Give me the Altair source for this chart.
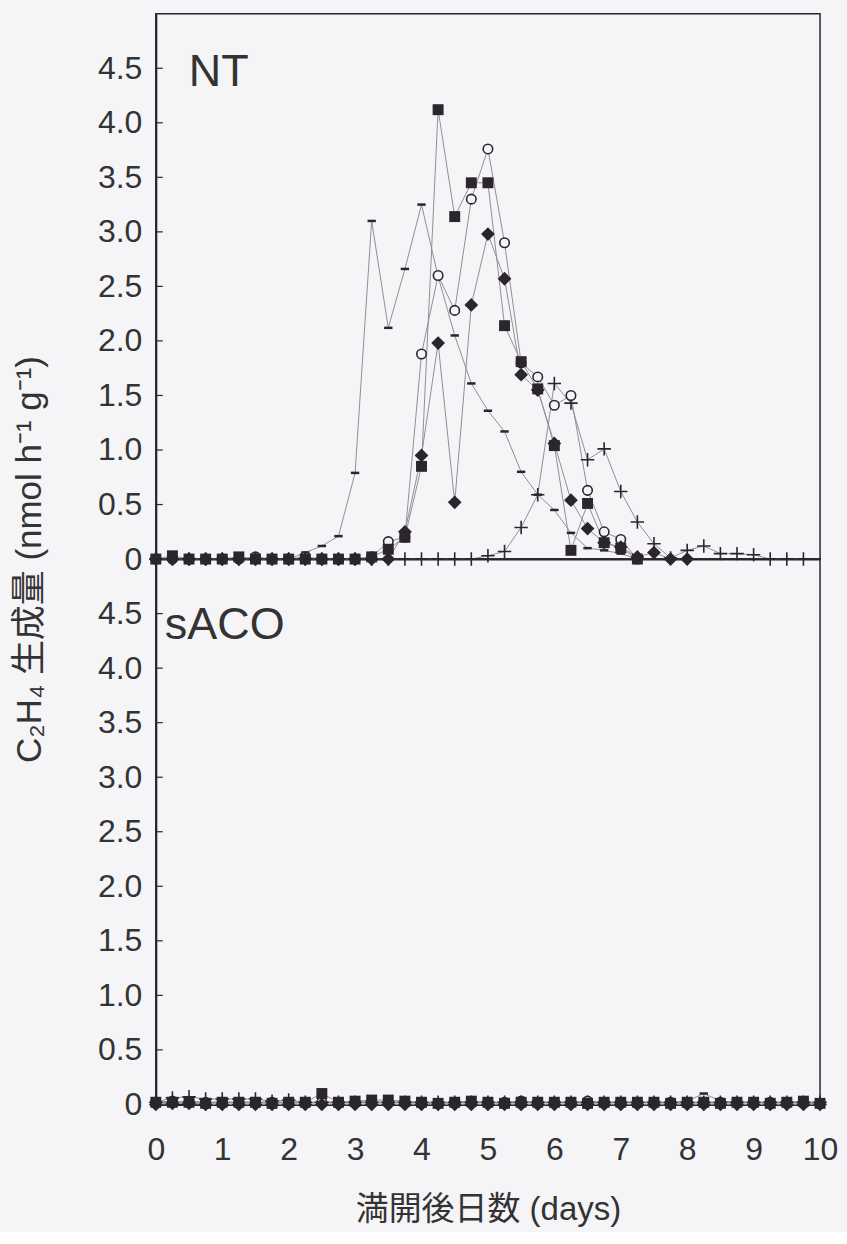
import altair as alt
import pandas as pd

days = [0, 0.25, 0.5, 0.75, 1, 1.25, 1.5, 1.75, 2, 2.25, 2.5, 2.75, 3, 3.25, 3.5, 3.75,
        4, 4.25, 4.5, 4.75, 5, 5.25, 5.5, 5.75, 6, 6.25, 6.5, 6.75, 7, 7.25, 7.5, 7.75,
        8, 8.25, 8.5, 8.75, 9, 9.25, 9.5, 9.75, 10]

N = None
# NT panel
nt_square = [0, 0.03, 0, 0, 0, 0.02, 0, 0, 0, 0, 0, 0, 0, 0.02, 0.09, 0.2,
             0.85, 4.12, 3.14, 3.45, 3.45, 2.14, 1.81, 1.56, 1.04, 0.08, 0.51, 0.15, 0.1, 0, N, N,
             N, N, N, N, N, N, N, N, N]
nt_circle = [0, 0, 0, 0, 0, 0, 0.02, 0, 0, 0.02, 0, 0, 0, 0.02, 0.16, 0.2,
             1.88, 2.6, 2.28, 3.3, 3.76, 2.9, 1.8, 1.67, 1.41, 1.5, 0.63, 0.25, 0.18, 0, N, N,
             N, N, N, N, N, N, N, N, N]
nt_diamond = [0, 0, 0, 0, 0, 0, 0, 0, 0, 0, 0, 0, 0, 0, 0, 0.25,
              0.95, 1.98, 0.52, 2.33, 2.98, 2.57, 1.69, 1.55, 1.06, 0.54, 0.28, 0.15, 0.11, 0.02, 0.06, 0,
              0, N, N, N, N, N, N, N, N]
nt_dash = [0, 0, 0, 0, 0, 0, 0, 0, 0, 0.06, 0.12, 0.21, 0.79, 3.1, 2.12, 2.66,
           3.25, 2.59, 2.05, 1.61, 1.36, 1.17, 0.8, 0.59, 0.45, 0.24, 0.1, 0.08, 0.05, 0, N, N,
           N, N, N, N, N, N, N, N, N]
nt_plus = [0, 0, 0, 0, 0, 0, 0, 0, 0, 0, 0, 0, 0, 0, 0, 0,
           0, 0, 0, 0, 0.03, 0.07, 0.29, 0.59, 1.61, 1.43, 0.91, 1.01, 0.62, 0.34, 0.14, 0.01,
           0.08, 0.12, 0.05, 0.05, 0.04, 0, 0, 0, N]

# sACO panel
sa_square = [0.02, 0.02, 0.02, 0.01, 0.02, 0.02, 0.02, 0.01, 0.02, 0.02, 0.1, 0.02, 0.03, 0.04, 0.04, 0.03,
             0.02, 0.01, 0.02, 0.03, 0.02, 0.01, 0.02, 0.02, 0.02, 0.02, 0.01, 0.02, 0.02, 0.02, 0.02, 0.01,
             0.02, 0.02, 0.01, 0.02, 0.02, 0.01, 0.02, 0.03, 0.01]
sa_circle = [0.02, 0.03, 0.02, 0.02, 0.02, 0.02, 0.02, 0.02, 0.02, 0.02, 0.02, 0.02, 0.02, 0.02, 0.02, 0.02,
             0.01, 0.01, 0.02, 0.02, 0.02, 0.02, 0.03, 0.02, 0.02, 0.02, 0.03, 0.02, 0.02, 0.02, 0.02, 0.02,
             0.01, 0.02, 0.02, 0.02, 0.02, 0.02, 0.02, 0.01, 0.01]
sa_diamond = [0, 0.01, 0.01, 0, 0, 0, 0, 0, 0, 0, 0, 0, 0, 0, 0, 0,
              0, 0, 0, 0, 0, 0, 0, 0, 0, 0, 0, 0, 0, 0, 0, 0,
              0, 0, 0, 0, 0, 0, 0, 0, 0]
sa_dash = [0.02, 0.02, 0.03, 0.02, 0.02, 0.02, 0.02, 0.02, 0.02, 0.02, 0.02, 0.02, 0.02, 0.02, 0.02, 0.02,
           0.02, 0.02, 0.02, 0.02, 0.02, 0.02, 0.02, 0.02, 0.02, 0.02, 0.02, 0.02, 0.02, 0.02, 0.02, 0.02,
           0.03, 0.1, 0.03, 0.02, 0.02, 0.02, 0.02, 0.02, 0.02]
sa_plus = [0.02, 0.06, 0.07, 0.05, 0.05, 0.05, 0.05, 0.03, 0.04, 0.02, 0.02, 0.02, 0.02, 0.02, 0.02, 0.02,
           0.02, 0.02, 0.02, 0.02, 0.02, 0.02, 0.02, 0.02, 0.02, 0.02, 0.02, 0.02, 0.02, 0.02, 0.02, 0.02,
           0.02, 0.02, 0.02, 0.02, 0.02, 0.02, 0.02, 0.02, 0.02]

y_ticks = [0, 0.5, 1.0, 1.5, 2.0, 2.5, 3.0, 3.5, 4.0, 4.5]
x_ticks = [0, 1, 2, 3, 4, 5, 6, 7, 8, 9, 10]

INK = "#2b262c"
LINE = "#948d94"
BG = "#f5f5f7"
FONT = "Liberation Sans, Arial, Noto Sans CJK JP"

PLUS = "M-1,0H1M0,-1V1"
DASH = "M-1,-0.3H1V0.3H-1Z"


def long_df(series):
    rows = []
    for name, vals in series.items():
        for d, v in zip(days, vals):
            if v is not None:
                rows.append({"day": d, "value": v, "series": name})
    return pd.DataFrame(rows)


def panel(series, label, label_dx, label_dy, bottom):
    df = long_df(series)
    xs = alt.X("day:Q", scale=alt.Scale(domain=[0, 10], nice=False),
               axis=alt.Axis(values=x_ticks, labels=bottom, ticks=False, title="満開後日数 (days)" if bottom else None,
                             domainColor=INK, domainWidth=2, grid=False, labelFlush=False,
                             labelFontSize=32, labelPadding=30, labelColor="#333",
                             titleFontSize=33, titleFontWeight="normal", titlePadding=28, titleColor="#333",
                             labelFont=FONT, titleFont=FONT))
    yaxis_kwargs = dict(values=y_ticks, ticks=False, domainColor=INK, domainWidth=2, grid=False,
                        labelFontSize=32, labelPadding=14, labelColor="#333", labelFont=FONT,
                        labelExpr="datum.value == 0 ? '0' : format(datum.value, '.1f')")
    if bottom:
        yaxis_kwargs.update(title="C₂H₄ 生成量 (nmol h⁻¹ g⁻¹)", titleFontSize=35, titleFontWeight="normal",
                            titleColor="#333", titleFont=FONT, titleY=0, titleX=-126,
                            titleAlign="center", titleBaseline="middle", titleAngle=270)
    else:
        yaxis_kwargs.update(title=None)
    ys = alt.Y("value:Q", scale=alt.Scale(domain=[0, 5], nice=False), axis=alt.Axis(**yaxis_kwargs))

    base = alt.Chart(df).encode(x=xs, y=ys)
    lines = base.mark_line(color=LINE, strokeWidth=1).encode(detail="series:N")

    def pts(name, **mk):
        return base.transform_filter(alt.datum.series == name).mark_point(**mk)

    sq = pts("square", shape="square", filled=True, color=INK, size=120, opacity=1)
    ci = pts("circle", shape="circle", filled=False, color=INK, fill=BG, fillOpacity=1,
             strokeWidth=1.6, size=90, opacity=1)
    di = pts("diamond", shape="diamond", filled=True, color=INK, size=190, opacity=1)
    da = pts("dash", shape=DASH, filled=True, color=INK, size=70, opacity=1)
    pl = pts("plus", shape=PLUS, filled=False, color=INK, strokeWidth=1.6, size=180, opacity=1)

    tick_df = pd.DataFrame({"t": y_ticks[1:]})
    ticks = alt.Chart(tick_df).mark_rule(color=INK, strokeWidth=1.2).encode(
        y=alt.Y("t:Q", scale=alt.Scale(domain=[0, 5], nice=False)),
        x=alt.value(0), x2=alt.value(7))

    txt = alt.Chart(pd.DataFrame({"lab": [label]})).mark_text(
        align="left", baseline="alphabetic", fontSize=45, font=FONT, color="#333"
    ).encode(text="lab:N", x=alt.value(label_dx), y=alt.value(label_dy))

    return alt.layer(lines, pl, da, ci, di, sq, ticks, txt).properties(width=665, height=546)


top = panel({"square": nt_square, "circle": nt_circle, "diamond": nt_diamond,
             "dash": nt_dash, "plus": nt_plus}, "NT", 33, 72, False)
bot = panel({"square": sa_square, "circle": sa_circle, "diamond": sa_diamond,
             "dash": sa_dash, "plus": sa_plus}, "sACO", 9, 80, True)

chart = alt.VConcatChart(vconcat=[top, bot], spacing=0, bounds="flush").properties(
    background=BG,
    padding={"left": 12, "top": 12, "right": 8, "bottom": 4},
).configure_view(stroke=INK, strokeWidth=1.5).configure_concat(spacing=0)

chart.save("out.html", embed_options={"renderer": "svg", "actions": False})
